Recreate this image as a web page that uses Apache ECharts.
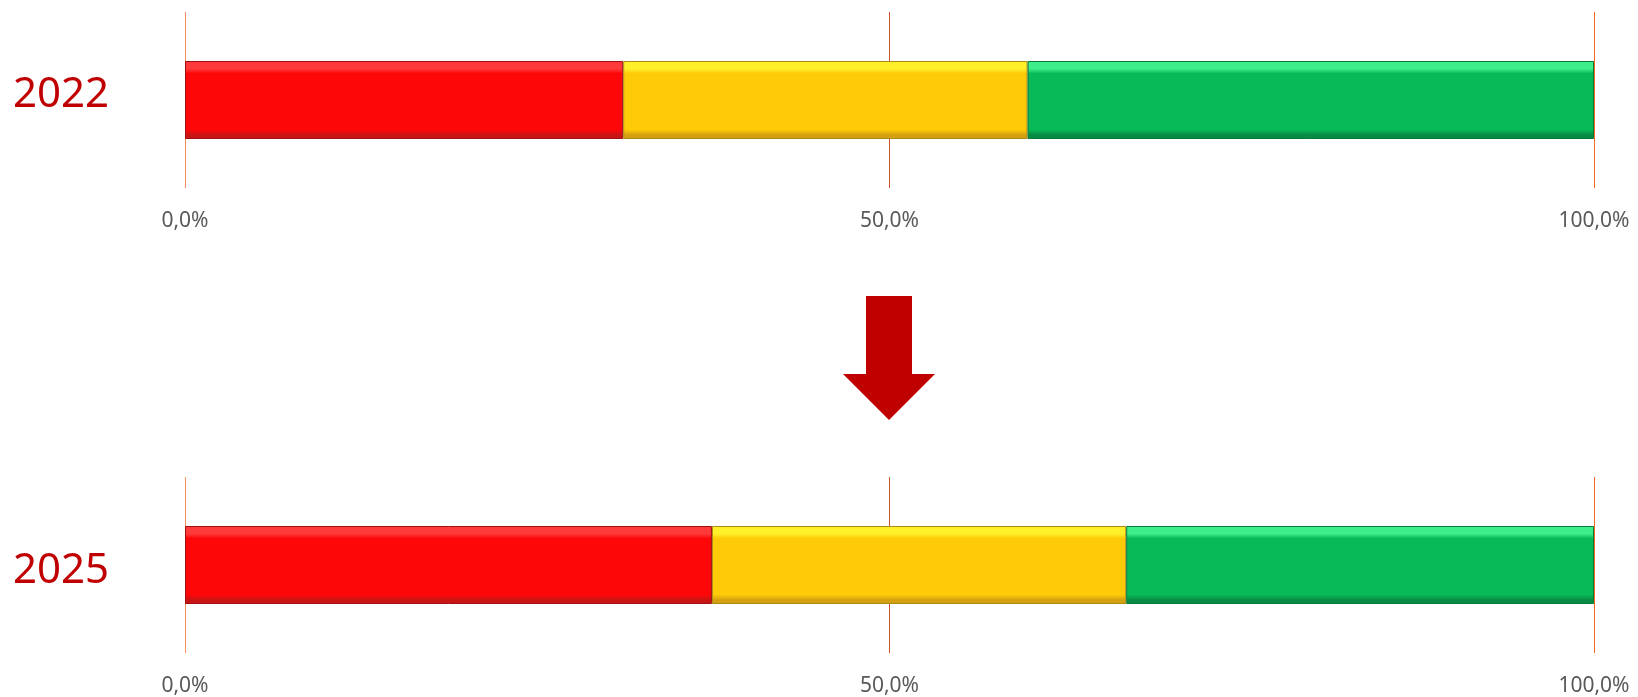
<!DOCTYPE html>
<html>
<head>
<meta charset="utf-8">
<script src="https://cdn.jsdelivr.net/npm/echarts@6/dist/echarts.min.js"></script>
<style>
html,body{margin:0;padding:0;background:#fff;}
#chart{width:1638px;height:697px;}
</style>
</head>
<body>
<div id="chart"></div>
<script>
// Data
var years = ['2022', '2025'];
var redShare = [31.1, 37.4];
var yellowShare = [28.7, 29.4];
var greenShare = [40.2, 33.2];
var tickValues = [0, 50, 100];

function bevel(top, mid, bottom) {
  return {
    type: 'linear', x: 0, y: 0, x2: 0, y2: 1,
    colorStops: [
      {offset: 0, color: top},
      {offset: 0.1, color: top},
      {offset: 0.16, color: mid},
      {offset: 0.88, color: mid},
      {offset: 0.95, color: bottom},
      {offset: 1, color: bottom}
    ]
  };
}
var segStyles = [
  {name: 'red', data: redShare, fill: bevel('#FF3A3A', '#FE0709', '#C81414'), border: '#A01010'},
  {name: 'yellow', data: yellowShare, fill: bevel('#FFF02A', '#FFCA08', '#D2A010'), border: '#B08A10'},
  {name: 'green', data: greenShare, fill: bevel('#3EEE8A', '#08BA58', '#088A44'), border: '#067A3A'}
];

var gridTops = [12, 477];
var labelPads = [[0, 0, 10, 0], [12, 0, 0, 0]];
var grids = [], xAxes = [], yAxes = [], series = [];
years.forEach(function (yr, i) {
  grids.push({left: 185, right: 44, top: gridTops[i], height: 176});
  xAxes.push({
    type: 'value', gridIndex: i, min: tickValues[0], max: tickValues[tickValues.length - 1], interval: 50,
    axisLine: {show: false}, axisTick: {show: false},
    splitLine: {show: true, lineStyle: {color: ['#F39062', '#C8552A', '#F26B22'], width: 1}},
    axisLabel: {
      margin: 23, fontFamily: 'Noto Sans', fontSize: 21, color: '#595959',
      formatter: function (v) { return v.toFixed(1).replace('.', ',') + '%'; }
    }
  });
  yAxes.push({
    type: 'category', gridIndex: i, data: [yr],
    axisLine: {show: false}, axisTick: {show: false}, splitLine: {show: false},
    axisLabel: {
      margin: 76,
      formatter: function (v) { return '{y|' + v + '}'; },
      rich: {y: {fontFamily: 'Noto Sans', fontSize: 42, color: '#C00000', padding: labelPads[i]}}
    }
  });
  segStyles.forEach(function (s) {
    series.push({
      type: 'bar', name: s.name + yr, stack: 'total' + i,
      xAxisIndex: i, yAxisIndex: i, barWidth: 78,
      data: [s.data[i]],
      itemStyle: {color: s.fill, borderColor: s.border, borderWidth: 1},
      silent: true
    });
  });
});

var chart = echarts.init(document.getElementById('chart'), null, {renderer: 'canvas'});
chart.setOption({
  animation: false,
  backgroundColor: '#ffffff',
  grid: grids,
  xAxis: xAxes,
  yAxis: yAxes,
  series: series,
  graphic: [{
    type: 'polygon',
    shape: {points: [[866, 296], [912, 296], [912, 374], [935, 374], [889, 420], [843, 374], [866, 374]]},
    style: {fill: '#C00000'}
  }]
});
</script>
</body>
</html>
